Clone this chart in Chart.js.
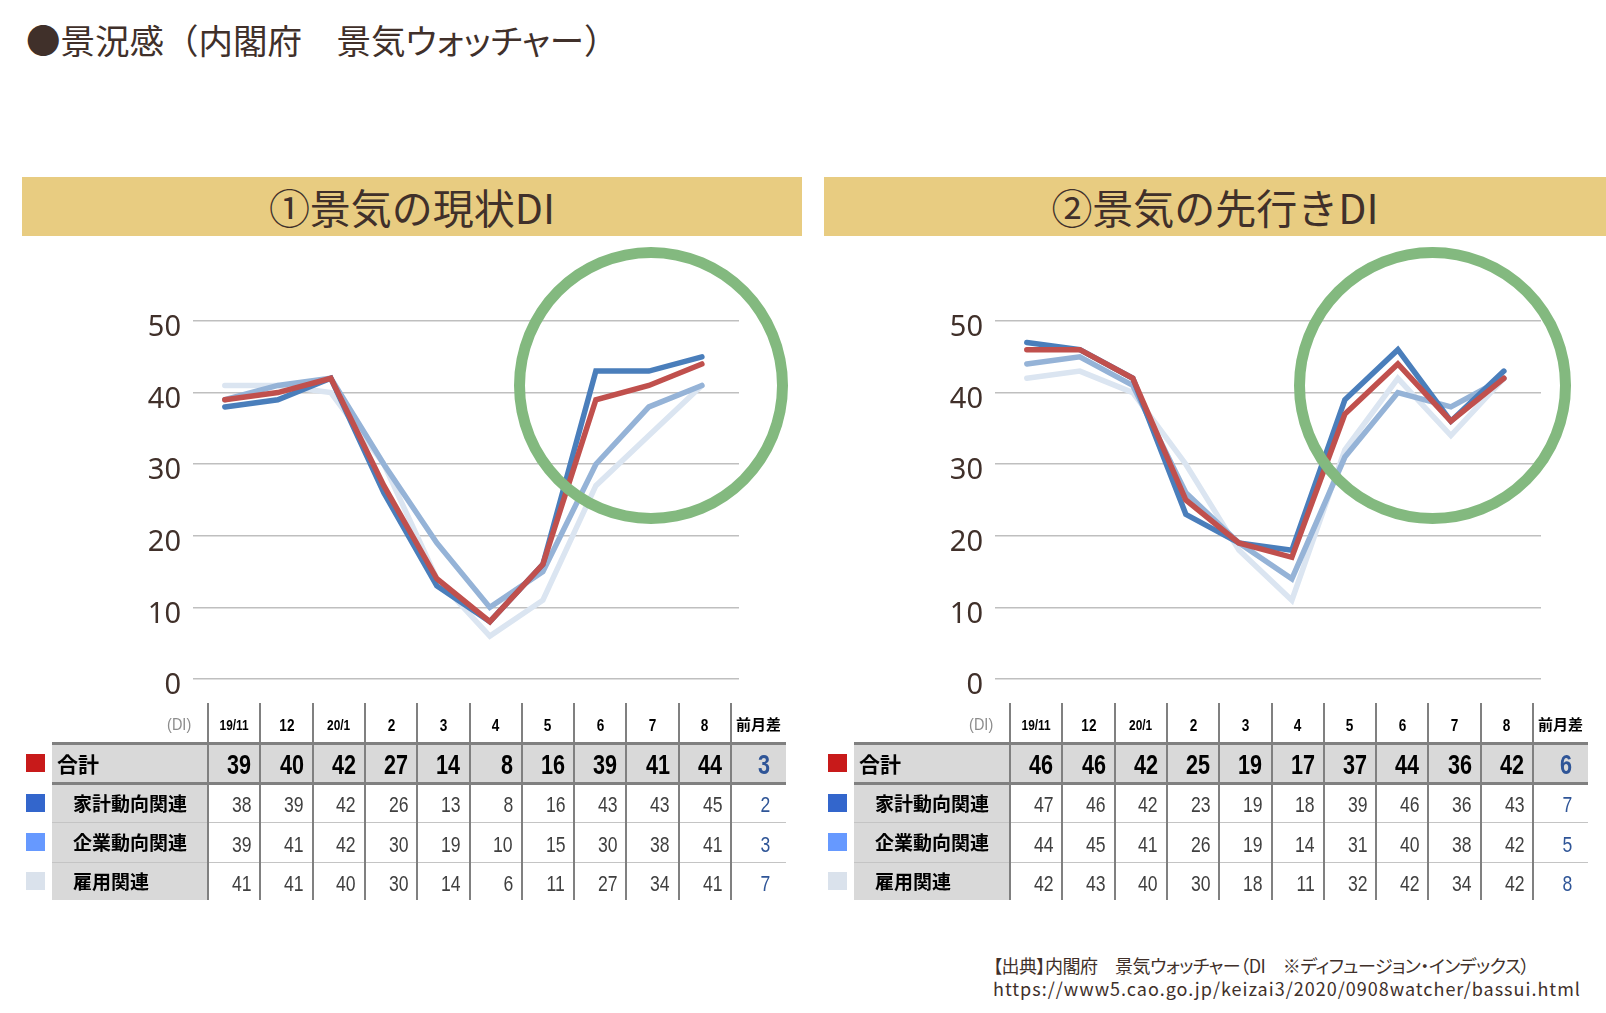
<!DOCTYPE html>
<html lang="ja">
<head>
<meta charset="UTF-8">
<title>景況感（内閣府　景気ウォッチャー）</title>
<script src="https://cdn.jsdelivr.net/npm/chart.js@4.4.1/dist/chart.umd.min.js"></script>
<style>
  body { margin: 0; width: 1606px; height: 1013px; background: #fff; position: relative; overflow: hidden;
         font-family: "Noto Sans CJK JP", sans-serif; color: #40302a; }
  .title { position: absolute; left: 26px; top: 13px; font-size: 34.5px; line-height: 52px; white-space: nowrap; }
  .title .kana { font-feature-settings: "palt"; }
  .band { position: absolute; top: 177px; height: 59px; background: #e8cc81; font-size: 41px; line-height: 59px; text-align: center; }
  .chart-box { position: absolute; top: 290px; width: 640px; height: 420px; }
  .ring { position: absolute; border: 11px solid #83b97f; border-radius: 50%; box-sizing: border-box; }
  .tbl div { position: absolute; box-sizing: border-box; white-space: nowrap; }
  .num { display: inline-block; transform: scaleX(0.8); transform-origin: right center;
         font-family: "Liberation Sans", sans-serif; }
  .hd  { display: inline-block; transform: scaleX(0.85); transform-origin: center center;
         font-family: "Liberation Sans", sans-serif; }
  .source { position: absolute; left: 993px; top: 954px; font-size: 18px; line-height: 23px; white-space: nowrap; }
  .source .jp { font-feature-settings: "palt"; letter-spacing: -0.5px; }
  .source .url { letter-spacing: 1px; }
</style>
</head>
<body>
<div class="title">●景況感（内閣府　景気<span class="kana">ウォッチャー</span>）</div>

<div class="band" style="left:22px; width:780px;">①景気の現状DI</div>
<div class="band" style="left:824px; width:782px;">②景気の先行きDI</div>

<div class="chart-box" style="left:120px;"><canvas id="currentChart" width="640" height="420"></canvas></div>
<div class="chart-box" style="left:922px;"><canvas id="outlookChart" width="640" height="420"></canvas></div>

<div class="ring" style="left:514px; top:247px; width:274px; height:277px;"></div>
<div class="ring" style="left:1294px; top:247px; width:277px; height:277px;"></div>

<div class="tbl" id="currentTable"></div>
<div class="tbl" id="outlookTable"></div>

<div class="source"><span class="jp">【出典】内閣府　景気ウォッチャー（DI　※ディフュージョン・インデックス）</span><br><span class="url">https://www5.cao.go.jp/keizai3/2020/0908watcher/bassui.html</span></div>

<script>
// 月ラベル・系列名
const months = ['19/11', '12', '20/1', '2', '3', '4', '5', '6', '7', '8'];
const seriesNames = ['合計', '家計動向関連', '企業動向関連', '雇用関連'];
const yTicks = [0, 10, 20, 30, 40, 50];

// ① 景気の現状DI
const currentTotal     = [39, 40, 42, 27, 14, 8, 16, 39, 41, 44];
const currentHousehold = [38, 39, 42, 26, 13, 8, 16, 43, 43, 45];
const currentCorporate = [39, 41, 42, 30, 19, 10, 15, 30, 38, 41];
const currentEmploy    = [41, 41, 40, 30, 14, 6, 11, 27, 34, 41];
const currentDiff      = [3, 2, 3, 7];

// ② 景気の先行きDI
const outlookTotal     = [46, 46, 42, 25, 19, 17, 37, 44, 36, 42];
const outlookHousehold = [47, 46, 42, 23, 19, 18, 39, 46, 36, 43];
const outlookCorporate = [44, 45, 41, 26, 19, 14, 31, 40, 38, 42];
const outlookEmploy    = [42, 43, 40, 30, 18, 11, 32, 42, 34, 42];
const outlookDiff      = [6, 7, 5, 8];

// 線の色（グラフ）と凡例の色（表）
const lineColors   = ['#c0504d', '#4a7ebb', '#95b3d7', '#dbe5f1'];
const legendColors = ['#c81a1a', '#3366cc', '#6699ff', '#dae2ec'];

function makeChart(canvasId, seriesList) {
    new Chart(document.getElementById(canvasId), {
        type: 'line',
        data: {
            datasets: seriesList.map((values, k) => ({
                label: seriesNames[k],
                data: values.map((v, i) => ({ x: i, y: v })),
                borderColor: lineColors[k],
                borderWidth: 5.5,
                borderCapStyle: 'round',
                pointRadius: 0,
                tension: 0
            }))
        },
        options: {
            responsive: false,
            animation: false,
            layout: { padding: { top: 31, bottom: 31, right: 21, left: 0 } },
            plugins: { legend: { display: false }, tooltip: { enabled: false } },
            scales: {
                x: { type: 'linear', min: -0.6, max: 9.7, display: false },
                y: {
                    min: yTicks[0],
                    max: yTicks[yTicks.length - 1],
                    afterFit: (scale) => { scale.width = 73; },
                    afterBuildTicks: (scale) => { scale.ticks = yTicks.map(v => ({ value: v })); },
                    border: { display: false },
                    grid: { color: '#bfbfbf', lineWidth: 1.5, drawTicks: false },
                    ticks: { padding: 12, labelOffset: 7, color: '#40302a',
                             font: { family: '"Noto Sans", sans-serif', size: 29 } }
                }
            }
        }
    });
}

makeChart('currentChart', [currentTotal, currentHousehold, currentCorporate, currentEmploy]);
makeChart('outlookChart', [outlookTotal, outlookHousehold, outlookCorporate, outlookEmploy]);

/* =========================================
   表（HTML）
   ========================================= */
function buildTable(el, rows, diffs, dx) {
    const labelLeft = 52, firstCol = 208, colW = 52.3, diffRight = 786;
    const rowTop = [703, 743, 783, 822, 862];
    const rowH   = [40, 40, 39, 40, 38];
    let html = '';
    const box = (x, y, w, h, style, text) => {
        html += `<div style="left:${x + dx}px; top:${y}px; width:${w}px; height:${h}px; ${style}">${text || ''}</div>`;
    };

    // 背景
    box(labelLeft, 743, firstCol - labelLeft, 900 - 743, 'background:#d9d9d9;');
    box(firstCol, 743, diffRight - firstCol, 40, 'background:#d9d9d9;');

    // 横線
    [822, 862].forEach(y => box(labelLeft, y, diffRight - labelLeft, 1, 'background:#c4c4c4;'));
    [743, 783].forEach(y => box(labelLeft, y - 1.5, diffRight - labelLeft, 3, 'background:#808080;'));

    // 縦線
    for (let k = 0; k <= months.length; k++) {
        box(firstCol + k * colW - 1, 703, 2, 900 - 703, 'background:#808080;');
    }

    // 見出し行
    box(60, 703, 133, 40, 'text-align:right; line-height:40px; font-size:17px; color:#8c8c8c;',
        '<span class="hd">(DI)</span>');
    months.forEach((m, i) => {
        const size = m.length > 2 ? 14 : 16;
        box(firstCol + i * colW, 703, colW, 40,
            `text-align:center; line-height:42px; font-size:${size}px; font-weight:bold; color:#000;`,
            `<span class="hd">${m}</span>`);
    });
    box(firstCol + months.length * colW, 703, diffRight - 731, 40,
        'text-align:center; line-height:42px; font-size:15px; font-weight:bold; color:#000;', '前月差');

    // データ行
    rows.forEach((values, r) => {
        const y = rowTop[r + 1], h = rowH[r + 1];
        const main = r === 0;
        const size = main ? 27 : 22;
        box(26, y + h / 2 - 9, 19, 18, `background:${legendColors[r]};`);
        box(main ? 57 : 73, y, 140, h,
            `line-height:${h}px; font-size:${main ? 21 : 19}px; font-weight:bold; color:#000;`, seriesNames[r]);
        values.forEach((v, i) => {
            box(firstCol + i * colW, y, colW, h,
                `text-align:right; padding-right:9px; line-height:${h}px; font-size:${size}px; ` +
                `font-weight:${main ? 'bold' : 'normal'}; color:${main ? '#000' : '#404040'};`,
                `<span class="num">${v}</span>`);
        });
        box(731, y, diffRight - 731, h,
            `text-align:right; padding-right:16px; line-height:${h}px; font-size:${size}px; ` +
            `font-weight:${main ? 'bold' : 'normal'}; color:#2f5597;`,
            `<span class="num">${diffs[r]}</span>`);
    });

    el.innerHTML = html;
}

buildTable(document.getElementById('currentTable'),
    [currentTotal, currentHousehold, currentCorporate, currentEmploy], currentDiff, 0);
buildTable(document.getElementById('outlookTable'),
    [outlookTotal, outlookHousehold, outlookCorporate, outlookEmploy], outlookDiff, 802);
</script>
</body>
</html>
